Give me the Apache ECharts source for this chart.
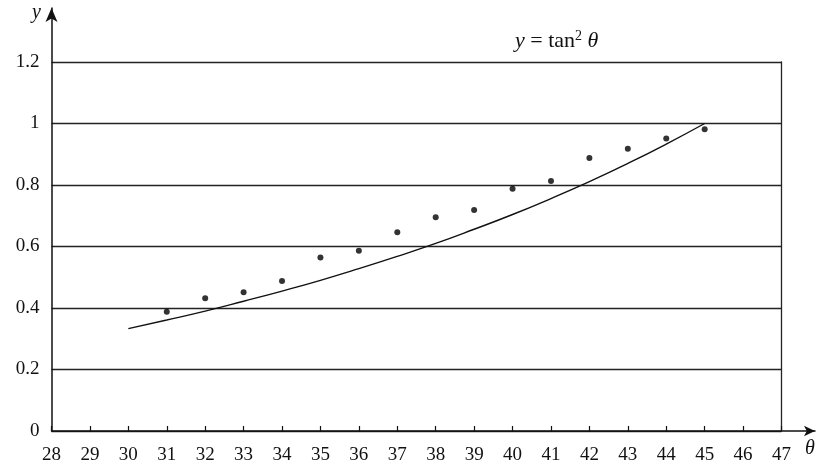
<!DOCTYPE html>
<html><head><meta charset="utf-8">
<script src="https://cdn.jsdelivr.net/npm/echarts@6/dist/echarts.min.js"></script>
<style>html,body{margin:0;padding:0;background:#fff}#c{width:818px;height:470px}</style>
</head><body><div id="c"></div>
<script>
var xTicks = [28,29,30,31,32,33,34,35,36,37,38,39,40,41,42,43,44,45,46,47];
var curveTheta = [30,31,32,33,34,35,36,37,38,39,40,41,42,43,44,45];
var curveY = [0.333,0.361,0.390,0.422,0.455,0.490,0.528,0.568,0.610,0.656,0.704,0.756,0.811,0.870,0.933,1.0];
var dotTheta = [31,32,33,34,35,36,37,38,39,40,41,42,43,44,45];
var dotY = [0.388,0.432,0.451,0.488,0.564,0.586,0.646,0.695,0.719,0.788,0.813,0.888,0.918,0.951,0.981];

var font = '"Liberation Serif", "DejaVu Serif", serif';
var chart = echarts.init(document.getElementById('c'));
chart.setOption({
  animation: false,
  backgroundColor: '#fff',
  textStyle: {fontFamily: font},
  title: {
    text: '{i|y} {e|=} tan{s|2} {i|θ}',
    left: 510, top: 24,
    textStyle: {
      fontFamily: font, fontSize: 22, fontWeight: 'normal', color: '#111',
      rich: {
        i: {fontStyle: 'italic', fontSize: 22, fontFamily: font, color: '#111'},
        e: {fontSize: 22, fontFamily: font, color: '#111'},
        s: {fontSize: 14, fontFamily: font, color: '#111', padding: [0,0,10,0]}
      }
    }
  },
  graphic: [
    {type: 'text', left: 32, top: 3, style: {text: 'y', font: 'italic 20px ' + font, fill: '#111'}},
    {type: 'text', left: 805, top: 439, style: {text: 'θ', font: 'italic 20px ' + font, fill: '#111'}}
  ],
  grid: [
    {left: 51.5, right: 36.5, top: 62, bottom: 39},
    {left: 51.5, right: 3, top: 8, bottom: 39}
  ],
  xAxis: [
    {type: 'value', gridIndex: 0, min: 28, max: 47, interval: 1,
     axisLine: {show: false},
     axisTick: {show: true, inside: true, length: 5, lineStyle: {color: '#111', width: 1.2}},
     axisLabel: {show: true, color: '#111', fontSize: 19, fontFamily: font, margin: 15,
       formatter: function (v) { return xTicks.indexOf(v) >= 0 ? String(v) : ''; }},
     splitLine: {show: false}},
    {type: 'value', gridIndex: 1, min: 0, max: 1,
     axisLine: {show: true, lineStyle: {color: '#111', width: 1.5}, symbol: ['none', 'arrow'], symbolSize: [8, 11], symbolOffset: [0, 0]},
     axisTick: {show: false}, axisLabel: {show: false}, splitLine: {show: false}}
  ],
  yAxis: [
    {type: 'value', gridIndex: 0, min: 0, max: 1.2, interval: 0.2,
     axisLine: {show: false}, axisTick: {show: false},
     axisLabel: {color: '#111', fontSize: 19, fontFamily: font, margin: 12,
       formatter: function (v) { return String(Math.round(v * 10) / 10); }},
     splitLine: {show: true, lineStyle: {color: '#222', width: 1.3}}},
    {type: 'value', gridIndex: 0, min: 0, max: 1.2, position: 'right',
     axisLine: {show: true, lineStyle: {color: '#222', width: 1.3}},
     axisTick: {show: false}, axisLabel: {show: false}, splitLine: {show: false}},
    {type: 'value', gridIndex: 1, min: 0, max: 1,
     axisLine: {show: true, lineStyle: {color: '#111', width: 1.5}, symbol: ['none', 'arrow'], symbolSize: [9, 14], symbolOffset: [0, 0]},
     axisTick: {show: false}, axisLabel: {show: false}, splitLine: {show: false}}
  ],
  series: [
    {type: 'line', xAxisIndex: 0, yAxisIndex: 0, smooth: true, showSymbol: false,
     data: curveTheta.map(function (t, i) { return [t, curveY[i]]; }),
     lineStyle: {color: '#111', width: 1.4}, z: 5},
    {type: 'scatter', xAxisIndex: 0, yAxisIndex: 0, symbolSize: 6,
     data: dotTheta.map(function (t, i) { return [t, dotY[i]]; }),
     itemStyle: {color: '#000'}, z: 6}
  ]
});
</script></body></html>
